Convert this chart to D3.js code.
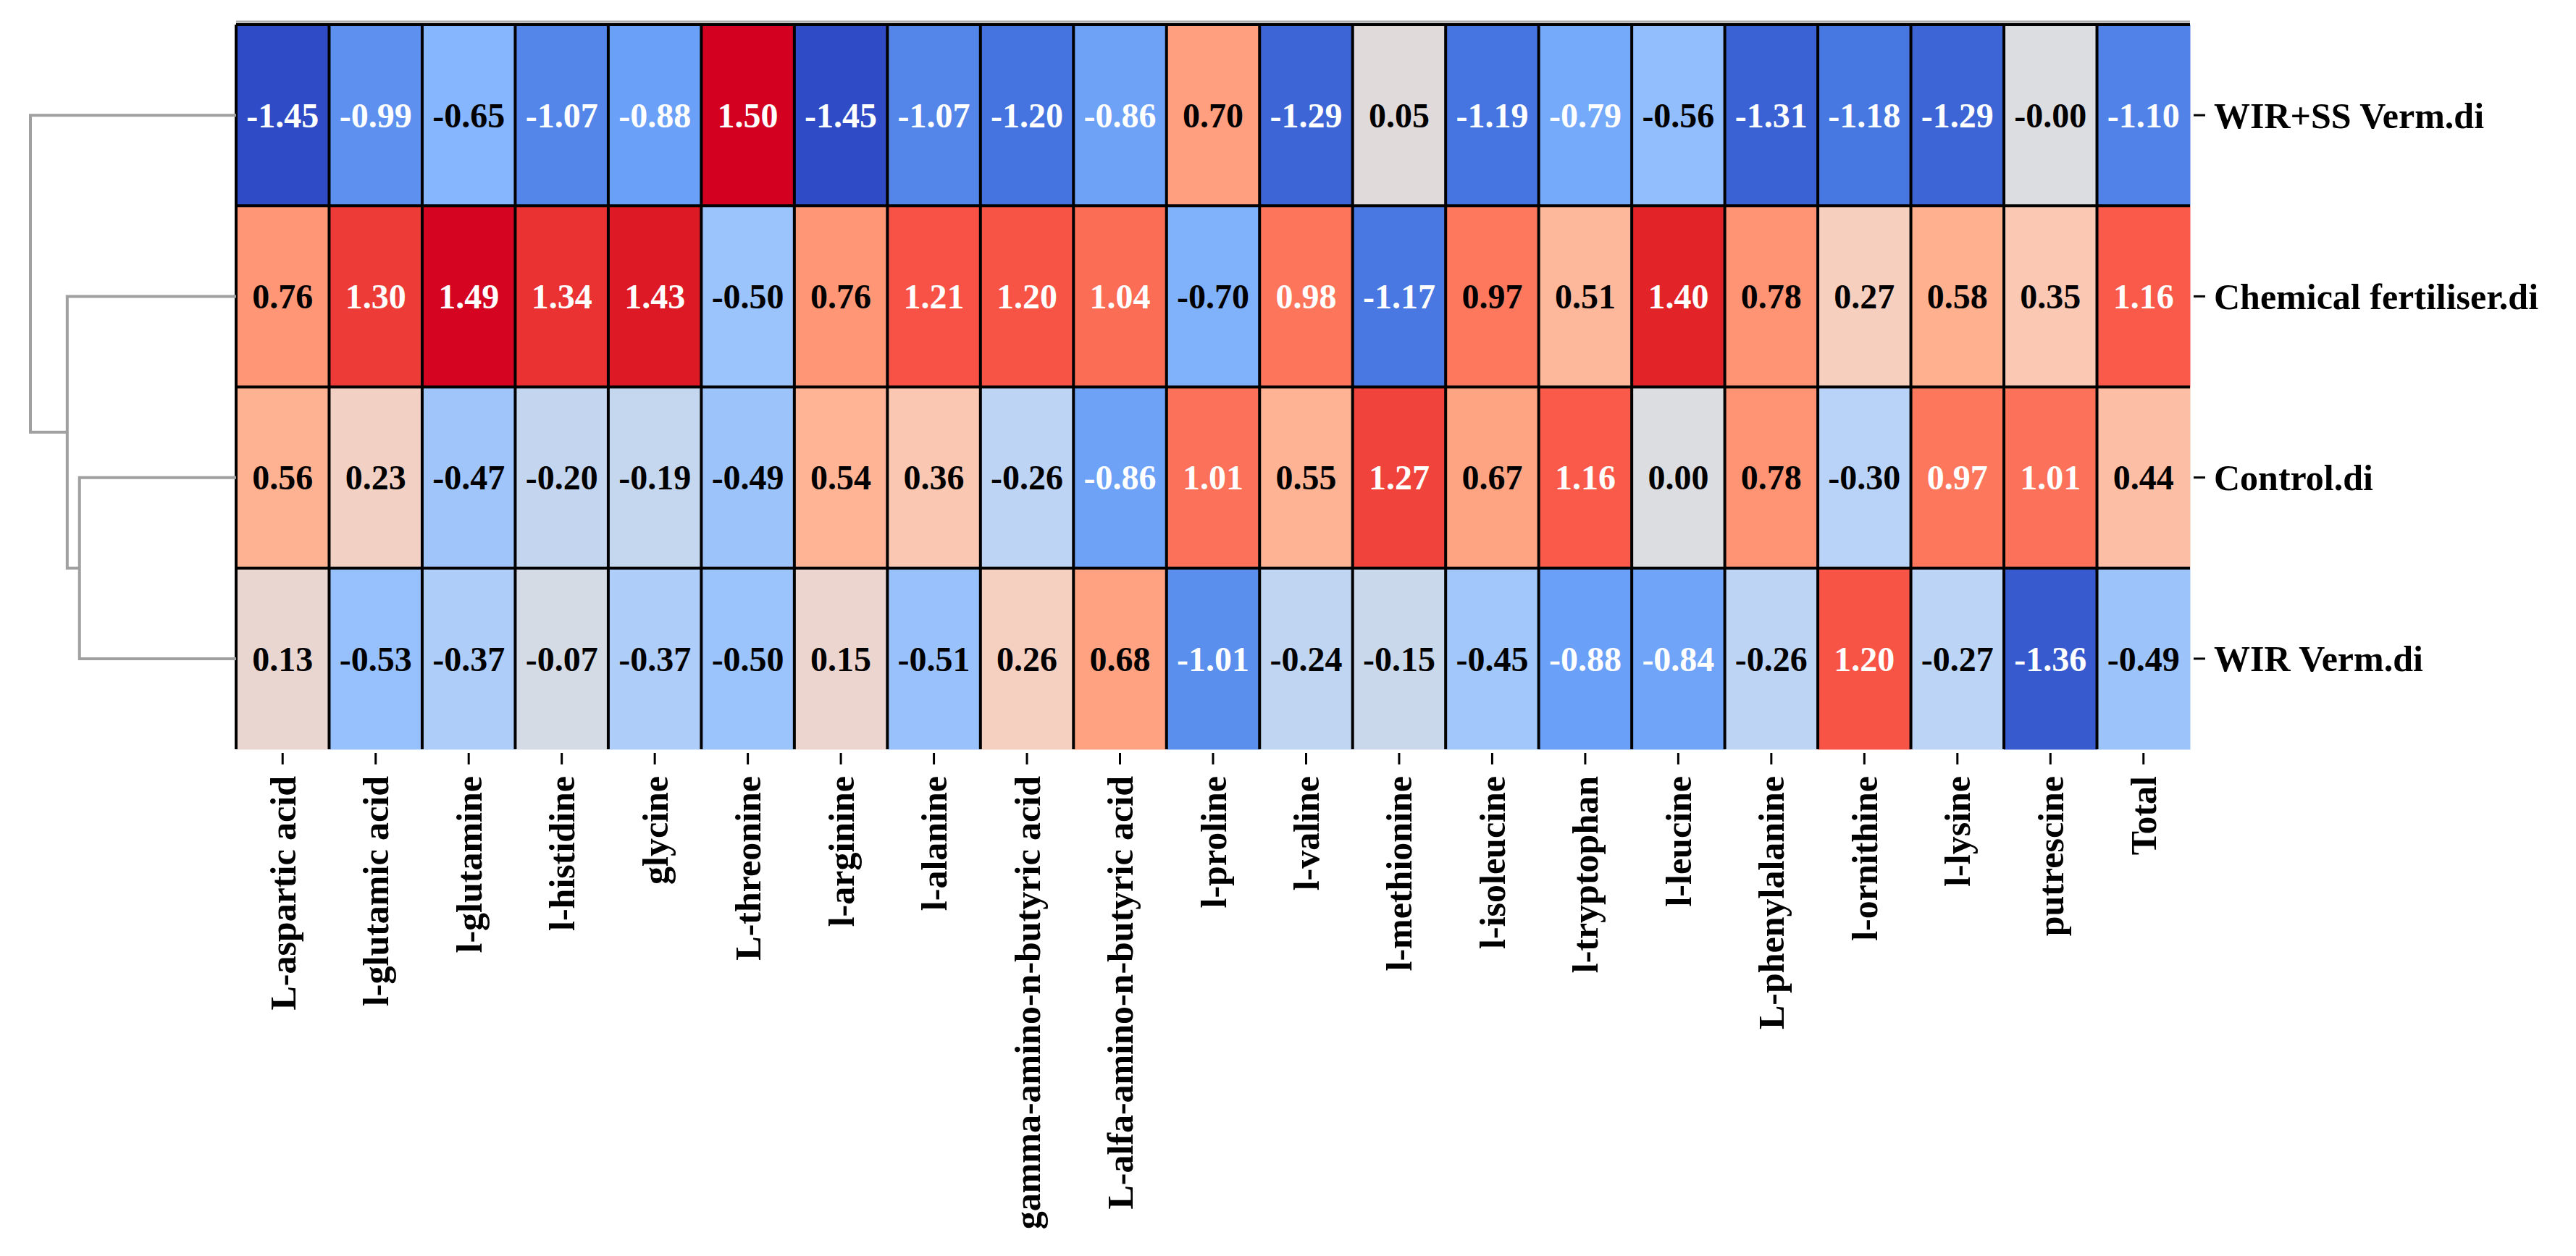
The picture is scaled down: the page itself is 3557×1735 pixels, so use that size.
<!DOCTYPE html>
<html>
<head>
<meta charset="utf-8">
<script src="https://cdn.jsdelivr.net/npm/d3@7"></script>
<style>
  body { margin: 0; background: #fff; }
  text { font-family: 'Liberation Serif', 'Times New Roman', serif; font-weight: bold; }
</style>
</head>
<body>
<div class="chart-heatmap"><svg></svg></div>
<script>
const columns = ['L-aspartic acid', 'l-glutamic acid', 'l-glutamine', 'l-histidine', 'glycine', 'L-threonine',
  'l-arginine', 'l-alanine', 'gamma-amino-n-butyric acid', 'L-alfa-amino-n-butyric acid', 'l-proline',
  'l-valine', 'l-methionine', 'l-isoleucine', 'l-tryptophan', 'l-leucine', 'L-phenylalanine',
  'l-ornithine', 'l-lysine', 'putrescine', 'Total']

const rows = ['WIR+SS Verm.di', 'Chemical fertiliser.di', 'Control.di', 'WIR Verm.di']

const wirSsVerm = [-1.45, -0.99, -0.65, -1.07, -0.88, 1.50, -1.45, -1.07, -1.20, -0.86, 0.70,
  -1.29, 0.05, -1.19, -0.79, -0.56, -1.31, -1.18, -1.29, -0.001, -1.10]
const chemicalFertiliser = [0.76, 1.30, 1.49, 1.34, 1.43, -0.50, 0.76, 1.21, 1.20, 1.04, -0.70,
  0.98, -1.17, 0.966, 0.51, 1.40, 0.78, 0.27, 0.58, 0.35, 1.16]
const control = [0.56, 0.23, -0.47, -0.20, -0.19, -0.49, 0.54, 0.36, -0.26, -0.86, 1.01,
  0.55, 1.27, 0.67, 1.16, 0.00, 0.78, -0.30, 0.974, 1.01, 0.44]
const wirVerm = [0.13, -0.53, -0.37, -0.07, -0.37, -0.50, 0.15, -0.51, 0.26, 0.68, -1.01,
  -0.24, -0.15, -0.45, -0.88, -0.84, -0.26, 1.20, -0.27, -1.36, -0.49]

// row linkage: [a, b, height], ids >= rows.length are earlier merges
const merges = [[2, 3, 2.17], [1, 4, 2.34], [0, 5, 2.85]]

const colorStops = [-1.5, -1.45, -1.2, -0.9, -0.6, -0.3, 0, 0.3, 0.6, 0.9, 1.2, 1.4, 1.5]
const colorRange = ['#2b45c0', '#2f4bc5', '#4574e0', '#689ef6', '#8cbbfe', '#b8d3f7', '#dcdde0',
  '#f9cdbb', '#ffae8c', '#ff8264', '#f85446', '#e22428', '#d40020']

const values = [wirSsVerm, chemicalFertiliser, control, wirVerm]

const w = 3557
const h = 1735
const svg = d3.select('.chart-heatmap svg').attr('width', w).attr('height', h)

const x = d3.scaleBand().domain(columns).range([326, 3024])
const y = d3.scaleBand().domain(rows).range([34, 1035])
const color = d3.scaleLinear().domain(colorStops).range(colorRange).clamp(true)

const cells = []
rows.forEach((r, i) => {
  columns.forEach((c, j) => cells.push({ row: r, col: c, value: values[i][j] }))
})

svg.selectAll('.cell')
  .data(cells)
  .enter()
  .append('rect')
  .attr('class', 'cell')
  .attr('x', d => x(d.col))
  .attr('y', d => y(d.row))
  .attr('width', x.bandwidth() + 0.5)
  .attr('height', y.bandwidth() + 0.5)
  .attr('fill', d => color(d.value))

// grid: lines on left and top edges of cells only
svg.selectAll('.vline')
  .data(columns)
  .enter()
  .append('line')
  .attr('x1', d => x(d)).attr('x2', d => x(d))
  .attr('y1', y.range()[0]).attr('y2', y.range()[1])
  .attr('stroke', '#000').attr('stroke-width', 4)

svg.append('line')
  .attr('x1', x.range()[0]).attr('x2', x.range()[1])
  .attr('y1', 30).attr('y2', 30)
  .attr('stroke', '#aaa').attr('stroke-width', 3)

svg.selectAll('.hline')
  .data(rows)
  .enter()
  .append('line')
  .attr('x1', x.range()[0]).attr('x2', x.range()[1])
  .attr('y1', d => y(d)).attr('y2', d => y(d))
  .attr('stroke', '#000').attr('stroke-width', 4)

svg.selectAll('.annot')
  .data(cells)
  .enter()
  .append('text')
  .attr('x', d => x(d.col) + x.bandwidth() / 2)
  .attr('y', d => y(d.row) + y.bandwidth() / 2)
  .attr('dy', '0.35em')
  .attr('text-anchor', 'middle')
  .attr('font-size', 48)
  .attr('fill', d => (d.value < -0.75 || d.value > 0.97) ? '#fff' : '#000')
  .text(d => d.value.toFixed(2))

// row axis on the right
const rowAxis = svg.append('g')
rowAxis.selectAll('line')
  .data(rows)
  .enter()
  .append('line')
  .attr('x1', 3029).attr('x2', 3045)
  .attr('y1', d => y(d) + y.bandwidth() / 2).attr('y2', d => y(d) + y.bandwidth() / 2)
  .attr('stroke', '#000').attr('stroke-width', 3)
rowAxis.selectAll('text')
  .data(rows)
  .enter()
  .append('text')
  .attr('x', 3057)
  .attr('y', d => y(d) + y.bandwidth() / 2)
  .attr('dy', '0.35em')
  .attr('font-size', 50)
  .text(d => d)

// column axis at the bottom
const colAxis = svg.append('g')
colAxis.selectAll('line')
  .data(columns)
  .enter()
  .append('line')
  .attr('x1', d => x(d) + x.bandwidth() / 2).attr('x2', d => x(d) + x.bandwidth() / 2)
  .attr('y1', 1040).attr('y2', 1056)
  .attr('stroke', '#000').attr('stroke-width', 3)
colAxis.selectAll('text')
  .data(columns)
  .enter()
  .append('text')
  .attr('transform', d => `translate(${x(d) + x.bandwidth() / 2},1072) rotate(-90)`)
  .attr('dy', '0.35em')
  .attr('text-anchor', 'end')
  .attr('font-size', 50)
  .text(d => d)

// dendrogram on the left
const xDen = d3.scaleLinear().domain([0, d3.max(merges, m => m[2])]).range([326, 42])
const nodes = rows.map(r => ({ x: xDen(0), y: y(r) + y.bandwidth() / 2 }))
const links = []
merges.forEach(([a, b, hgt]) => {
  const na = nodes[a]
  const nb = nodes[b]
  const node = { x: xDen(hgt), y: (na.y + nb.y) / 2 }
  links.push(`M${na.x},${na.y}H${node.x}V${nb.y}H${nb.x}`)
  nodes.push(node)
})

svg.selectAll('.dendro')
  .data(links)
  .enter()
  .append('path')
  .attr('d', d => d)
  .attr('fill', 'none')
  .attr('stroke', '#a0a0a0')
  .attr('stroke-width', 4)
</script>
</body>
</html>
